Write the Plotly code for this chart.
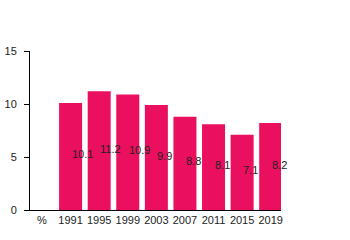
import plotly.graph_objects as go

categories = ["%", "1991", "1995", "1999", "2003", "2007", "2011", "2015", "2019"]
values = [None, 10.1, 11.2, 10.9, 9.9, 8.8, 8.1, 7.1, 8.2]
labels = ["", "10.1", "11.2", "10.9", "9.9", "8.8", "8.1", "7.1", "8.2"]
y_ticks = [0, 5, 10, 15]

idx = list(range(len(categories)))

fig = go.Figure()
fig.add_trace(go.Bar(x=idx, y=values, marker_color="#EB0F60",
                     marker_line_width=0, hoverinfo="skip"))
for i, v, t in zip(idx, values, labels):
    if v is None:
        continue
    fig.add_annotation(x=i, y=v / 2, text=t, showarrow=False, xanchor="left",
                       yanchor="middle", xshift=-1, yshift=2,
                       font=dict(size=11, color="#222222"))
fig.update_layout(
    width=350, height=240,
    margin=dict(l=30, r=69, t=51, b=30, autoexpand=False),
    paper_bgcolor="white", plot_bgcolor="white",
    showlegend=False, bargap=0.195,
    font=dict(family="Liberation Sans, Arial, sans-serif", size=11, color="#222222"),
)
fig.update_xaxes(range=[-0.42, 8.36], tickvals=idx, ticktext=categories,
                 showline=True, linecolor="black", linewidth=1, ticks="",
                 showgrid=False, zeroline=False, tickfont=dict(size=11),
                 automargin=False)
fig.update_yaxes(range=[0, 15], tickvals=y_ticks, showline=True, linecolor="black",
                 linewidth=1, ticks="outside", ticklen=5, tickcolor="black",
                 ticklabelstandoff=5, automargin=False,
                 showgrid=False, zeroline=False, tickfont=dict(size=11))
fig.write_html("out.html")
